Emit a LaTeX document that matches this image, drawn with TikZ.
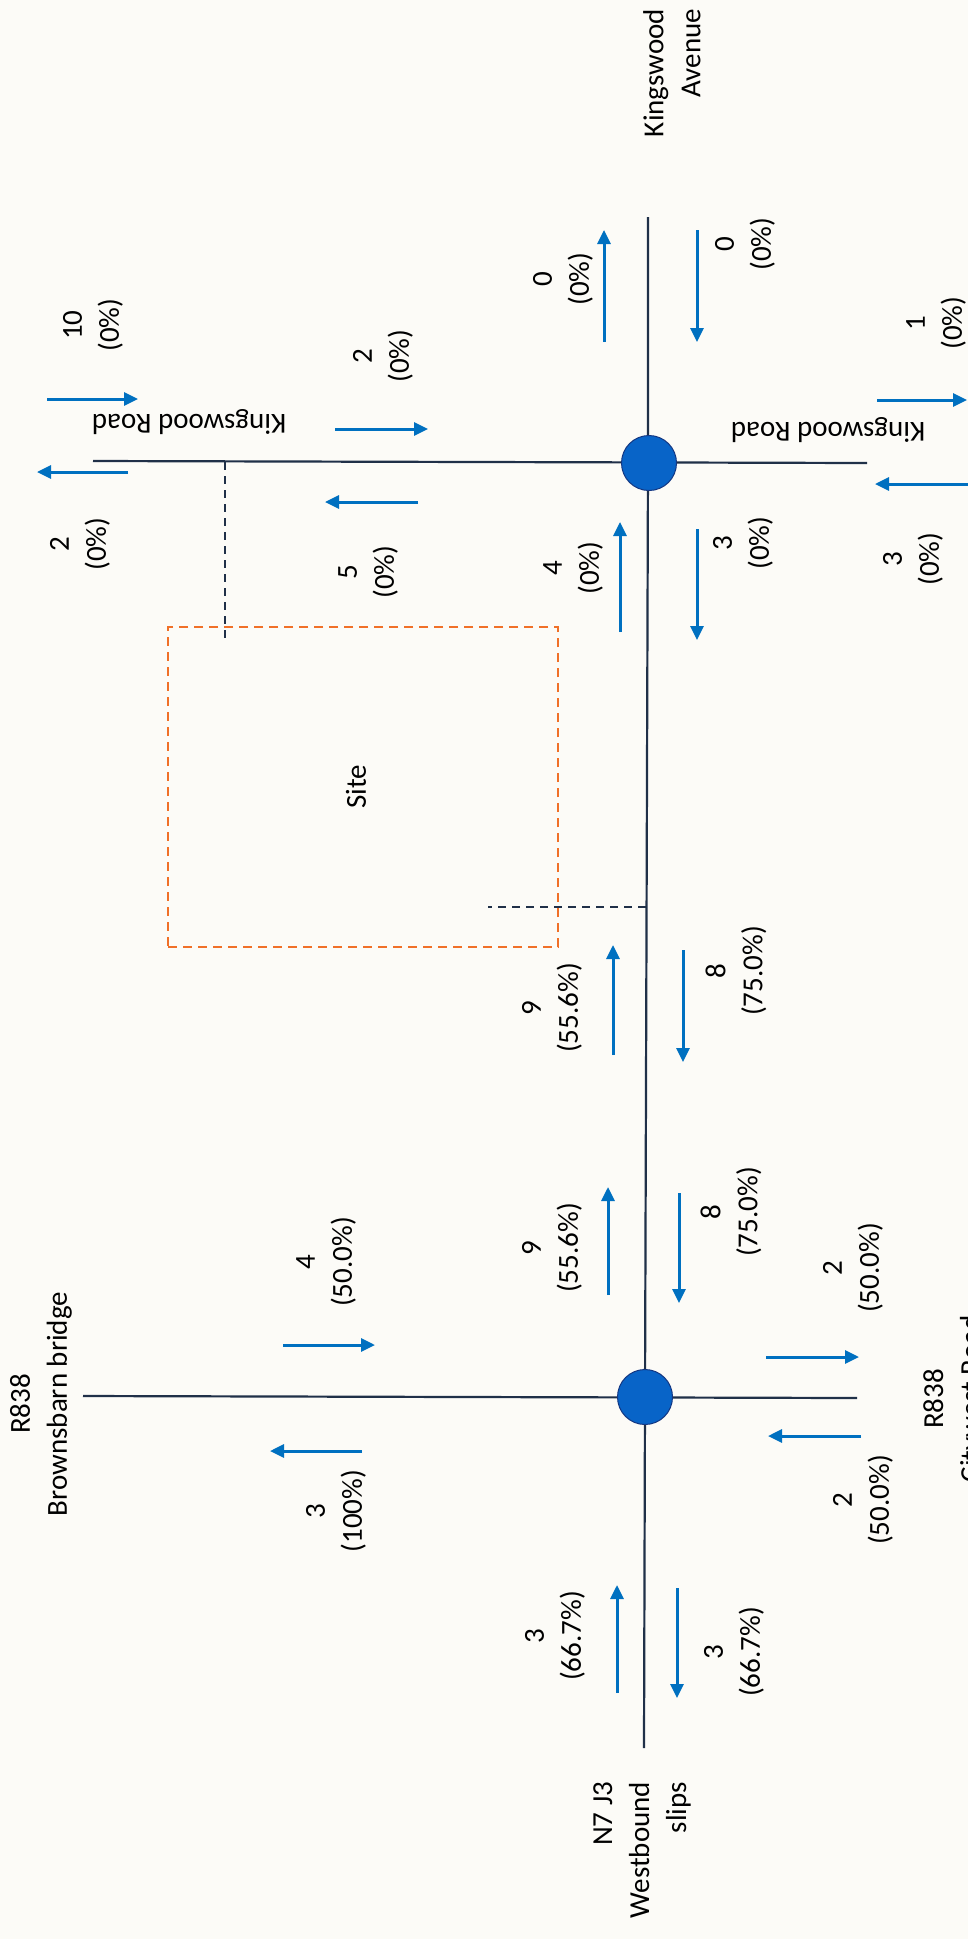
\documentclass[tikz,border=0pt]{standalone}
\usepackage{fontspec}
\setmainfont{Carlito}
\usetikzlibrary{arrows.meta, positioning}
\definecolor{paper}{RGB}{252,251,247}
\definecolor{roadcol}{RGB}{32,48,72}
\definecolor{flowblue}{RGB}{0,112,192}
\definecolor{sitecol}{RGB}{240,112,40}
\definecolor{jfill}{RGB}{8,100,200}
\definecolor{jline}{RGB}{20,55,130}
\tikzset{>={Triangle[length=14pt,width=13pt]}}
\tikzset{
  road/.style={draw=roadcol, line width=2.2pt},
  junction/.style={circle, fill=jfill, draw=jline, line width=1pt, minimum size=55pt},
  access/.style={draw=roadcol, line width=2.2pt, dash pattern=on 8pt off 6pt},
  site/.style={draw=sitecol, line width=2.6pt, dash pattern=on 9pt off 6pt},
  flow/.style={->, draw=flowblue, fill=flowblue, line width=3pt},
  count/.style={rotate=90, align=center},
  roadname/.style={rotate=90}
}

\begin{document}
\begin{tikzpicture}[x=1pt, y=-1pt, every node/.style={font=\fontsize{29}{37}\selectfont, inner sep=0pt}]
\useasboundingbox (0,0) rectangle (968,1939);
\fill[paper] (0,0) rectangle (968,1939);

% roads and junctions
\coordinate (kave) at (648,217);
\coordinate (n7) at (644,1748);
\coordinate (kwest) at (93,461);
\coordinate (keast) at (867,463);
\coordinate (rwest) at (83,1396);
\coordinate (reast) at (857,1398);
\draw[road] (kave) -- (648,462) -- (645,1397) -- (n7);
\draw[road] (kwest) -- (keast); \draw[road] (rwest) -- (reast);
\node[junction] (jking) at (649,463) {};
\node[junction] (jr838) at (645,1397) {};

% site and accesses
\node[site, minimum width=390pt, minimum height=320pt] (site) at (363,787) {};
\node[roadname] (sitelbl) at (356,787) {Site};
\coordinate (acc1) at (225,462); \coordinate (acc1e) at (225,638);
\coordinate (acc2) at (645.5,907); \coordinate (acc2e) at (488,907);
\draw[access] (acc1) -- (acc1e); \draw[access] (acc2) -- (acc2e);

% road names
\node[roadname, align=right] (kavenue) at (672,73) {Kingswood\\Avenue};
\node[rotate=180] (kroadw) at (189,422) {Kingswood Road};
\node[rotate=180] (kroade) at (828,430) {Kingswood Road};
\node[roadname, align=center] (brownsbarn) at (41,1404) {R838\\Brownsbarn bridge};
\node[roadname, align=center] (citywest) at (954,1399) {R838\\Citywest Road};
\node[roadname, align=right] (n7j3) at (642,1850) {N7 J3\\Westbound\\slips};

% flows on the main road
\draw[flow] (604,342) -- (604,230); \draw[flow] (697,230) -- (697,342);
\draw[flow] (620,632) -- (620,522); \draw[flow] (697,529) -- (697,640);
\draw[flow] (613,1055) -- (613,945); \draw[flow] (683,950) -- (683,1062);
\draw[flow] (608,1295) -- (608,1187); \draw[flow] (679,1193) -- (679,1303);
\draw[flow] (617,1693) -- (617,1585); \draw[flow] (677,1588) -- (677,1698);

% flows on Kingswood Road
\draw[flow] (47,399) -- (138,399); \draw[flow] (128,472) -- (37,472);
\draw[flow] (335,429) -- (428,429); \draw[flow] (418,502) -- (325,502);
\draw[flow] (877,400) -- (967,400); \draw[flow] (970,484) -- (875,484);

% flows on R838
\draw[flow] (283,1345) -- (375,1345); \draw[flow] (362,1451) -- (270,1451);
\draw[flow] (766,1357) -- (859,1357); \draw[flow] (861,1436) -- (768,1436);

% counts
\node[count] (cka) at (563,279) {0\\(0\%)};
\node[count] (ckb) at (745,244) {0\\(0\%)};
\node[count] (cwa) at (93,325) {10\\(0\%)};
\node[count] (cwb) at (80,544) {2\\(0\%)};
\node[count] (cwc) at (383,356) {2\\(0\%)};
\node[count] (cwd) at (368,572) {5\\(0\%)};
\node[count] (cea) at (936,323) {1\\(0\%)};
\node[count] (ceb) at (913,559) {3\\(0\%)};
\node[count] (cma) at (573,568) {4\\(0\%)};
\node[count] (cmb) at (743,543) {3\\(0\%)};
\node[count] (cmc) at (552,1008) {9\\(55.6\%)};
\node[count] (cmd) at (736,971) {8\\(75.0\%)};
\node[count] (cme) at (552,1248) {9\\(55.6\%)};
\node[count] (cmf) at (731,1212) {8\\(75.0\%)};
\node[count] (cmg) at (555,1636) {3\\(66.7\%)};
\node[count] (cmh) at (734,1652) {3\\(66.7\%)};
\node[count] (cba) at (326,1262) {4\\(50.0\%)};
\node[count] (cbb) at (336,1511) {3\\(100\%)};
\node[count] (cca) at (853,1268) {2\\(50.0\%)};
\node[count] (ccb) at (863,1500) {2\\(50.0\%)};
\end{tikzpicture}
\end{document}
